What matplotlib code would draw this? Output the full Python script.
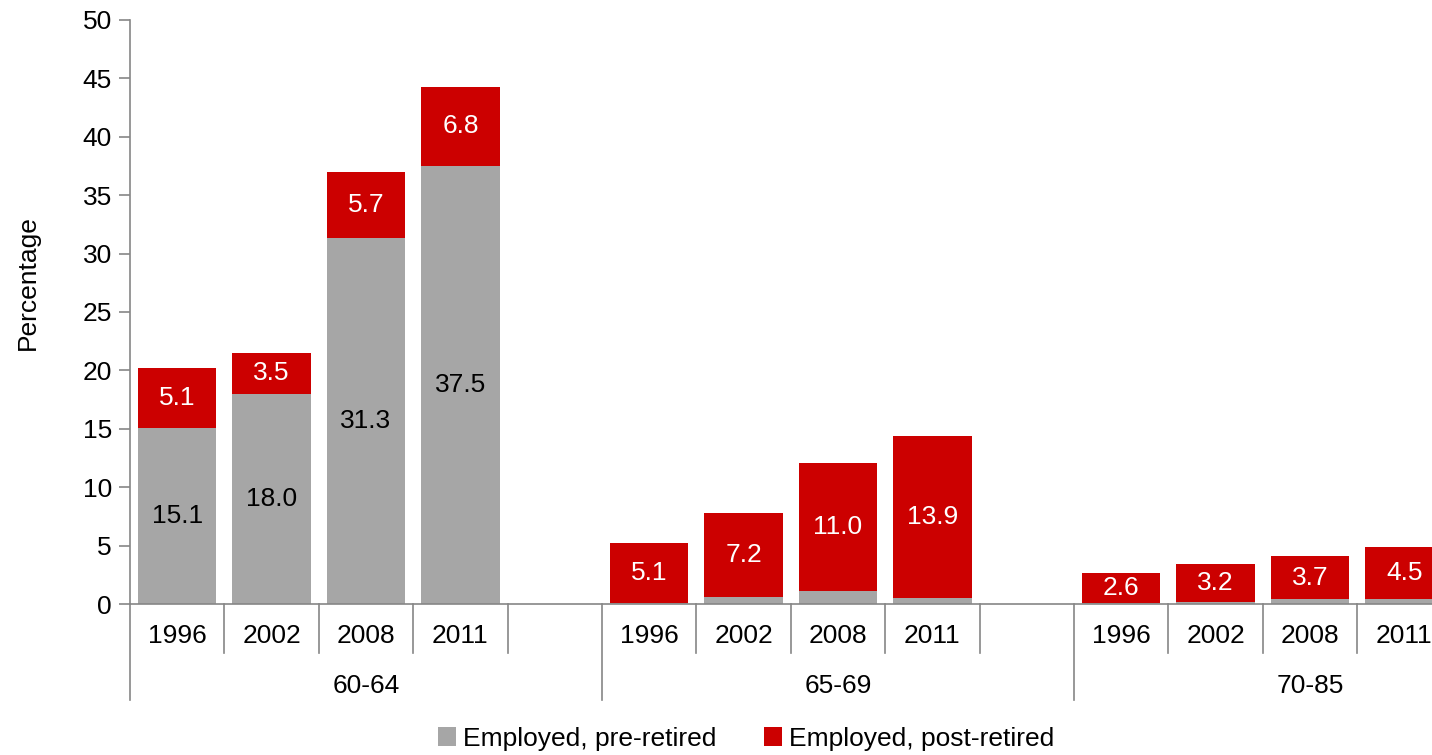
import numpy as np
import matplotlib.pyplot as plt
from matplotlib.patches import Patch

plt.rcParams['font.family'] = ['Liberation Sans', 'DejaVu Sans']

groups = ['60-64', '65-69', '70-85']
years = ['1996', '2002', '2008', '2011']

# employed, pre-retired (grey) and post-retired (red), per group per year
pre_retired = [[15.1, 18.0, 31.3, 37.5],
               [0.1, 0.6, 1.1, 0.5],
               [0.05, 0.2, 0.4, 0.4]]
post_retired = [[5.1, 3.5, 5.7, 6.8],
                [5.1, 7.2, 11.0, 13.9],
                [2.6, 3.2, 3.7, 4.5]]
show_pre_label = [True, False, False]

grey = '#A6A6A6'
red = '#CC0000'
axis_col = '#868686'
fs = 19

fig = plt.figure(figsize=(14.32, 7.55), dpi=100)
ax = fig.add_axes([130/1432, 151/755, 1416/1432, 584/755])

slots_per_group = len(years) + 1
width = 0.83
for g in range(len(groups)):
    for i in range(len(years)):
        x = g * slots_per_group + i
        lo = pre_retired[g][i]
        hi = post_retired[g][i]
        ax.bar(x, lo, width=width, color=grey, edgecolor='none')
        ax.bar(x, hi, bottom=lo, width=width, color=red, edgecolor='none')
        if show_pre_label[g]:
            ax.text(x, lo / 2, f'{lo:.1f}', ha='center', va='center', fontsize=fs, color='black')
        ax.text(x, lo + hi / 2, f'{hi:.1f}', ha='center', va='center', fontsize=fs, color='white')

nslots = slots_per_group * len(groups)
ax.set_xlim(-0.5, nslots - 0.5)
ax.set_ylim(0, 50)
ax.set_yticks(np.arange(0, 51, 5))
ax.set_xticks([])
ax.tick_params(axis='y', labelsize=fs, length=8, width=1.2, color=axis_col, pad=5)
for s in ['top', 'right']:
    ax.spines[s].set_visible(False)
ax.spines['left'].set_color(axis_col)
ax.spines['bottom'].set_color(axis_col)
ax.spines['left'].set_linewidth(1.2)
ax.spines['bottom'].set_linewidth(1.2)
ax.set_ylabel('Percentage', fontsize=fs)
ax.yaxis.set_label_coords(-0.0636, 0.551)

# two-level category axis
trans = ax.get_xaxis_transform()
for k in range(nslots + 1):
    xb = k - 0.5
    y_end = -0.164 if k % slots_per_group == 0 else -0.084
    ax.plot([xb, xb], [0, y_end], transform=trans, color=axis_col, lw=1.2, clip_on=False)
for g, grp in enumerate(groups):
    for i, yr in enumerate(years):
        ax.text(g * slots_per_group + i, -0.055, yr, transform=trans, ha='center', va='center',
                fontsize=fs, clip_on=False)
    ax.text(g * slots_per_group + (slots_per_group - 1) / 2, -0.140, grp, transform=trans,
            ha='center', va='center', fontsize=fs, clip_on=False)

handles = [Patch(facecolor=grey, edgecolor='none', label='Employed, pre-retired'),
           Patch(facecolor=red, edgecolor='none', label='Employed, post-retired')]
fig.legend(handles=handles, loc='center', bbox_to_anchor=(0.521, 0.0215), ncol=2, frameon=False,
           fontsize=fs, handlelength=0.7, handleheight=0.7, handletextpad=0.25, columnspacing=1.8)

plt.savefig('out.png', dpi=100, facecolor='w')
